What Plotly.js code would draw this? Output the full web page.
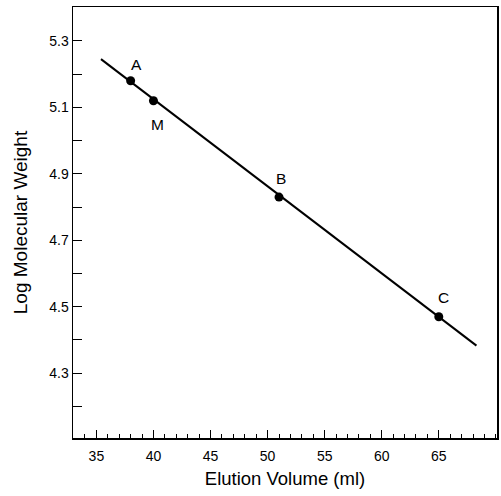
<!DOCTYPE html>
<html>
<head>
<meta charset="utf-8">
<script src="https://cdn.plot.ly/plotly-3.0.1.min.js"></script>
<style>html,body{margin:0;padding:0;background:#fff;}#chart{width:501px;height:496px;}</style>
</head>
<body>
<div id="chart"></div>
<script>
// Data
const pointLabels = ["A", "M", "B", "C"];
const elutionVolume = [38.0, 40.0, 51.0, 65.0];
const logMW = [5.18, 5.12, 4.83, 4.47];
const fitLineX = [35.4, 68.3];
const fitLineY = [5.245, 4.383];
const yTickVals = [4.3, 4.5, 4.7, 4.9, 5.1, 5.3];
const yTickText = ["4.3", "4.5", "4.7", "4.9", "5.1", "5.3"];
const xTickVals = [35, 40, 45, 50, 55, 60, 65];

const labelShift = {A: [6, 16], M: [4, -24], B: [2, 19], C: [5, 19]};
const font = "Liberation Sans, Arial, Helvetica, sans-serif";

const traces = [
  {x: fitLineX, y: fitLineY, mode: "lines", line: {color: "#000", width: 2}, hoverinfo: "skip"},
  {x: elutionVolume, y: logMW, mode: "markers", marker: {color: "#000", size: 9}}
];

const annotations = pointLabels.map((t, i) => ({
  x: elutionVolume[i], y: logMW[i], text: t, showarrow: false,
  xshift: labelShift[t][0], yshift: labelShift[t][1],
  font: {family: font, size: 15.5, color: "#000"}
}));

const layout = {
  width: 501, height: 496,
  margin: {l: 73, r: 4, t: 7, b: 58},
  paper_bgcolor: "#fff", plot_bgcolor: "#fff",
  showlegend: false,
  font: {family: font, color: "#000"},
  xaxis: {
    range: [32.95, 70.1], tickvals: xTickVals, ticks: "inside", ticklen: 8, tickwidth: 1,
    tickcolor: "#000", showgrid: false, zeroline: false, showline: true, linewidth: 1.5,
    linecolor: "#000", mirror: true, tickfont: {size: 14, family: font},
    ticklabelstandoff: 5,
    minor: {dtick: 1, tick0: 0, ticks: "inside", ticklen: 4, tickcolor: "#000", showgrid: false},
    title: {text: "Elution Volume (ml)", font: {size: 18.5, family: font}, standoff: 9}
  },
  yaxis: {
    range: [4.105, 5.402], tickvals: yTickVals, ticktext: yTickText, ticks: "inside", ticklen: 9,
    tickwidth: 1, tickcolor: "#000", showgrid: false, zeroline: false, showline: true,
    linewidth: 1.5, linecolor: "#000", mirror: true, tickfont: {size: 14, family: font},
    minor: {dtick: 0.1, tick0: 4.1, ticks: "inside", ticklen: 9, tickcolor: "#000", showgrid: false},
    title: {text: "Log Molecular Weight", font: {size: 19, family: font}, standoff: 16}
  },
  annotations: annotations
};

Plotly.newPlot("chart", traces, layout, {displayModeBar: false, staticPlot: true});
</script>
</body>
</html>
